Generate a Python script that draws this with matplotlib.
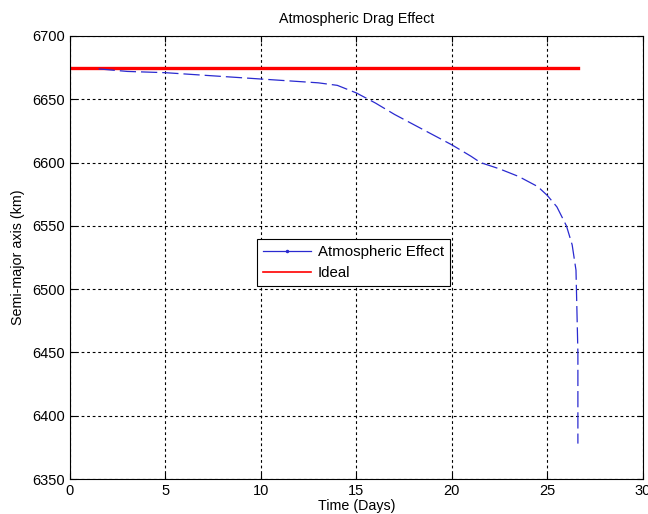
import matplotlib
matplotlib.use('Agg')
import matplotlib.pyplot as plt
from matplotlib.lines import Line2D

plt.rcParams['font.family'] = ['Liberation Sans', 'DejaVu Sans']

# semi-major axis decay under drag (days, km)
days = [1.5, 3, 5, 7, 9, 11, 13, 14, 15, 16, 17, 18, 19, 20, 21, 21.5,
        22.5, 23.5, 24.5, 25, 25.5, 26, 26.3, 26.5, 26.6, 26.6]
sma_drag = [6674, 6672, 6671, 6669, 6667, 6665, 6663, 6661, 6655, 6647,
            6638, 6630, 6622, 6614, 6605, 6600, 6595, 6589, 6581, 6574,
            6565, 6550, 6535, 6515, 6450, 6378]

ideal_days = [0, 26.6]
sma_ideal = [6675, 6675]

fig = plt.figure(figsize=(6.48, 5.14), dpi=100)
ax = fig.add_axes([0.108, 0.068, 0.884, 0.862])

ax.plot(ideal_days, sma_ideal, color='#ff0000', linewidth=2.4, zorder=2)
ax.plot(days, sma_drag, color='#2a2ad0', linewidth=0.9,
        linestyle=(0, (13, 4)), zorder=3)

ax.set_xlim(0, 30)
ax.set_ylim(6350, 6700)
ax.set_xticks(range(0, 31, 5))
ax.set_yticks(range(6350, 6701, 50))
ax.grid(True, color='black', linestyle=(0, (2.5, 2.5)), linewidth=0.8)
ax.tick_params(direction='in', labelsize=10.5, length=4, top=True, right=True)
for s in ax.spines.values():
    s.set_linewidth(0.8)

ax.set_title('Atmospheric Drag Effect', fontsize=10.3, pad=9)
ax.set_xlabel('Time (Days)', fontsize=10.3, labelpad=1)
ax.set_ylabel('Semi-major axis (km)', fontsize=10.3, labelpad=5)

handles = [Line2D([], [], color='#2a2ad0', marker='.', markersize=3,
                  linewidth=0.9),
           Line2D([], [], color='#ff0000', linewidth=1.2)]
leg = ax.legend(handles, ['Atmospheric Effect', 'Ideal'],
                loc='lower left', bbox_to_anchor=(0.327, 0.436),
                fancybox=False, framealpha=1, edgecolor='black',
                fontsize=10.8, handlelength=3.2, borderpad=0.4,
                labelspacing=0.45, handletextpad=0.45, borderaxespad=0)
leg.get_frame().set_linewidth(0.8)

fig.savefig('out.png', dpi=100)
